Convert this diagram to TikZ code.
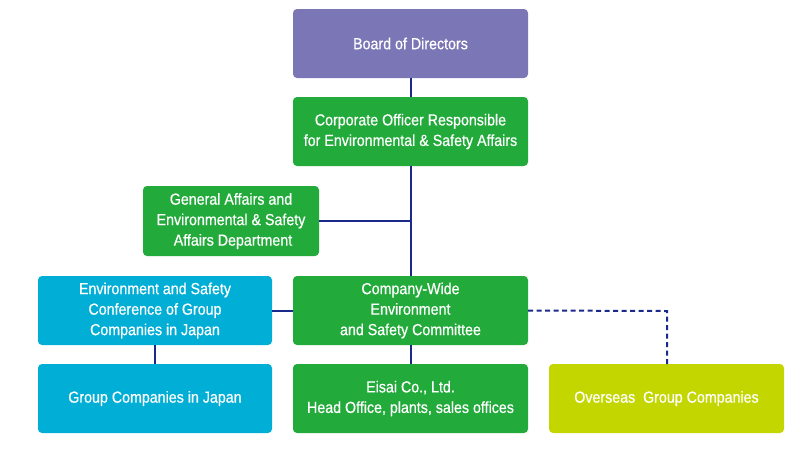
\documentclass[tikz,border=0pt]{standalone}
\usepackage{fontspec}
\setmainfont{Liberation Sans}[FakeStretch=0.89,FakeBold=0.6]
\definecolor{purp}{HTML}{7B76B5}
\definecolor{grn}{HTML}{22AA3A}
\definecolor{cyn}{HTML}{00AED6}
\definecolor{lime}{HTML}{C3D600}
\definecolor{navy}{HTML}{1A2A8A}
\tikzset{
  box/.style={text=white, align=center, inner sep=0pt,
    font=\fontsize{16}{20.5}\selectfont},
  conn/.style={draw=navy, line width=2pt},
}
\begin{document}
\begin{tikzpicture}[x=1pt,y=-1pt]
\useasboundingbox (0,0) rectangle (800,451);
\newcommand{\mybox}[7]{%
  \fill[#6, rounded corners=4pt] (#2,#3) rectangle (#4,#5);
  \node[box] (#1) at ({(#2+#4)/2},{(#3+#5)/2}) {#7};
  \coordinate (#1-n) at ({(#2+#4)/2},#3);
  \coordinate (#1-s) at ({(#2+#4)/2},#5);
  \coordinate (#1-w) at (#2,{(#3+#5)/2});
  \coordinate (#1-e) at (#4,{(#3+#5)/2});
}
\mybox{board}{293}{9}{528}{78}{purp}{Board of Directors}
\mybox{officer}{293}{97}{528}{166}{grn}{Corporate Officer Responsible\\for Environmental \& Safety Affairs}
\mybox{general}{143}{186}{319}{256}{grn}{General Affairs and\\Environmental \& Safety\\\ Affairs Department}
\mybox{conf}{38}{276}{272}{345}{cyn}{Environment and Safety\\Conference of Group\\Companies in Japan}
\mybox{committee}{293}{276}{528}{345}{grn}{Company-Wide\\Environment\\and Safety Committee}
\mybox{gcj}{38}{364}{272}{433}{cyn}{Group Companies in Japan}
\mybox{eisai}{293}{364}{528}{433}{grn}{Eisai Co., Ltd.\\Head Office, plants, sales offices}
\mybox{overseas}{549}{364}{784}{433}{lime}{Overseas\ \ Group Companies}
% connectors
\draw[conn] (board-s) -- (officer-n);
\draw[conn] (officer-s) -- (committee-n);
\coordinate (j1) at (411,221);
\draw[conn] (general-e |- j1) -- (j1);
\draw[conn] (conf-e) -- (committee-w);
\coordinate (c1) at (155,345);
\coordinate (c2) at (155,364);
\draw[conn] (c1) -- (c2);
\draw[conn] (committee-s) -- (eisai-n);
\coordinate (k1) at (667,311);
\draw[conn, dash pattern=on 5pt off 3.5pt] (committee-e) -- (k1) -- (overseas-n -| k1);
\end{tikzpicture}
\end{document}
